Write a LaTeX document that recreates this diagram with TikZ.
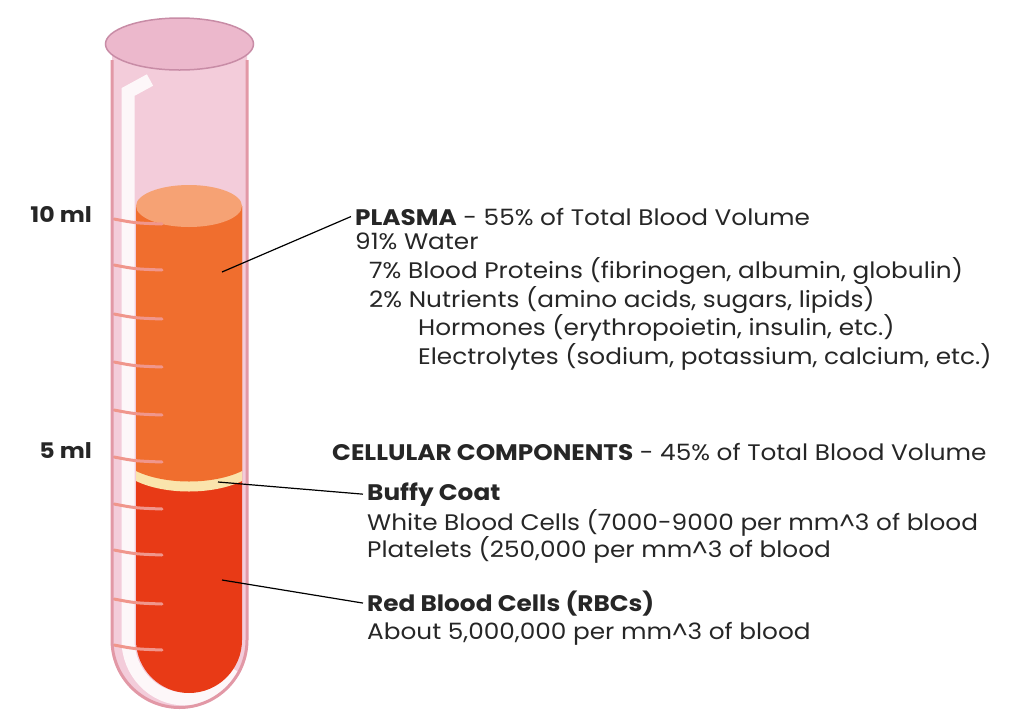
\documentclass[tikz,border=0pt]{standalone}
\usepackage{fontspec}
\setmainfont{Poppins}[FakeStretch=1.1]
\definecolor{glass}{RGB}{243,204,218}
\definecolor{rim}{RGB}{236,184,204}
\definecolor{rimedge}{RGB}{200,140,166}
\definecolor{wall}{RGB}{226,152,166}
\definecolor{plasma}{RGB}{240,110,46}
\definecolor{plasmatop}{RGB}{246,162,116}
\definecolor{buffy}{RGB}{250,228,172}
\definecolor{rbcred}{RGB}{232,58,22}
\definecolor{gradpink}{RGB}{240,150,140}
\begin{document}
\begin{tikzpicture}[x=1pt,y=-1pt,
    txt/.style={anchor=base west,inner sep=0pt,text=black!85,font=\fontsize{22.5}{26}\selectfont},
    head/.style={txt,font=\fontsize{22.5}{26}\selectfont\bfseries},
    gradmark/.style={gradpink,line width=3pt,line cap=round},
    pointer/.style={black,line width=1.2pt}]
  \useasboundingbox (0,0) rectangle (1021,713);
  % glass and its highlight
  \fill[glass] (112,44) -- (112,640) arc[start angle=180,end angle=360,radius=67.5pt] -- (247,44) -- cycle;
  \draw[white,line width=13pt,opacity=.85] (150,80) -- (128,92) -- (128,640)
    arc[start angle=180,end angle=330,x radius=57pt,y radius=59pt];
  % blood layers
  \fill[rbcred] (136,206) -- (136,640) arc[start angle=180,end angle=360,radius=53pt] -- (242,206) -- cycle;
  \fill[buffy] (136,206) -- (136,481) .. controls (165,495) and (213,495) .. (242,481) -- (242,206) -- cycle;
  \fill[plasma] (136,206) -- (136,471) .. controls (165,485) and (213,485) .. (242,471) -- (242,206) -- cycle;
  \fill[plasmatop] (189,206) ellipse[x radius=53pt,y radius=21pt];
  % graduations
  \foreach \y in {222,268,317,365,413,460,507,553,602,648}
    \draw[gradmark] (114,\y-3) .. controls (135,\y+1) .. (162,\y+2);
  % walls and rim
  \draw[wall,line width=3pt] (112,60) -- (112,640) arc[start angle=180,end angle=360,radius=67.5pt] -- (247,60);
  \filldraw[fill=rim,draw=rimedge,line width=1.5pt] (179.5,44) ellipse[x radius=74pt,y radius=26pt];
  \node[txt,anchor=base east,font=\fontsize{21.5}{24}\selectfont\bfseries] (ten) at (92,222) {10 ml};
  \node[txt,anchor=base east,font=\fontsize{21.5}{24}\selectfont\bfseries] (five) at (92,458) {5 ml};

  \node[txt] (plasma) at (355,225) {\textbf{PLASMA} - 55\% of Total Blood Volume};
  \node[txt] (water) at (355,249) {91\% Water};
  \node[txt] (proteins) at (369,278) {7\% Blood Proteins (fibrinogen, albumin, globulin)};
  \node[txt] (nutrients) at (369,307) {2\% Nutrients (amino acids, sugars, lipids)};
  \node[txt] (hormones) at (418,335) {Hormones (erythropoietin, insulin, etc.)};
  \node[txt] (electro) at (418,364) {Electrolytes (sodium, potassium, calcium, etc.)};

  \node[txt] (cells) at (332,460) {\textbf{CELLULAR COMPONENTS} - 45\% of Total Blood Volume};
  \node[head] (buffy) at (367,500) {Buffy Coat};
  \node[txt] (wbc) at (367,530) {White Blood Cells (7000-9000 per mm\textasciicircum3 of blood};
  \node[txt] (platelets) at (367,557) {Platelets (250,000 per mm\textasciicircum3 of blood};
  \node[head] (rbc) at (367,611) {Red Blood Cells (RBCs)};
  \node[txt] (rbcnum) at (367,639) {About 5,000,000 per mm\textasciicircum3 of blood};

  \coordinate (plasmapt) at (222,272);
  \coordinate (buffypt) at (218,482);
  \coordinate (rbcpt) at (222,580);
  \draw[pointer] (plasmapt) -- ([xshift=-4pt]plasma.west);
  \draw[pointer] (buffypt) -- ([xshift=-4pt]buffy.west);
  \draw[pointer] (rbcpt) -- ([xshift=-4pt]rbc.west);
\end{tikzpicture}
\end{document}
